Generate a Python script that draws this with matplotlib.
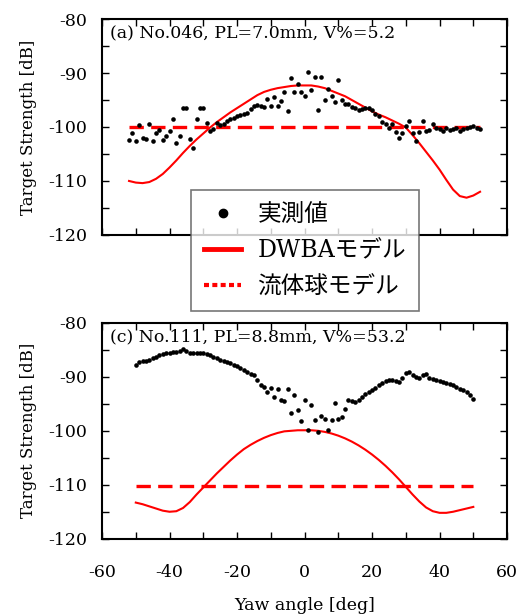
import numpy as np
import matplotlib
matplotlib.use("Agg")
import matplotlib.pyplot as plt
from matplotlib.lines import Line2D
from matplotlib.ticker import MultipleLocator

plt.rcParams['font.family'] = ['DejaVu Serif', 'Noto Sans CJK JP']
plt.rcParams['axes.unicode_minus'] = False

# (a) No.046 measured TS
yaw_a = np.arange(-52, 53)
ts_a = [-102.4, -101.1, -102.6, -99.7, -102.1, -102.2, -99.4, -102.6, -101.1, -100.5,
        -102.4, -101.7, -100.8, -98.6, -102.9, -101.7, -96.5, -96.4, -102.3, -103.9,
        -98.6, -96.4, -96.5, -99.2, -100.8, -100.4, -99.3, -99.7, -99.5, -98.9,
        -98.6, -98.3, -98.0, -97.8, -97.6, -97.4, -96.6, -96.2, -96.0, -96.1,
        -96.3, -94.9, -96.2, -94.5, -96.2, -95.1, -93.5, -97.0, -91.0, -93.5,
        -92.1, -93.5, -94.3, -89.8, -93.2, -90.7, -96.8, -90.7, -95.0, -92.9,
        -94.3, -95.4, -91.3, -95.0, -95.8, -95.8, -96.3, -96.5, -96.9, -96.6,
        -96.4, -96.5, -96.8, -97.5, -98.0, -99.1, -99.5, -100.1, -99.5, -100.9,
        -102.0, -101.2, -99.9, -98.9, -101.1, -102.6, -101.0, -98.9, -100.7, -100.6,
        -99.4, -100.2, -100.3, -100.7, -100.1, -100.5, -100.3, -100.1, -100.7, -100.3,
        -100.1, -100.0, -99.8, -100.2, -100.3]

# (a) DWBA model
ang_a = np.arange(-52, 53, 2)
dwba_a = [-110.0, -110.3, -110.4, -110.2, -109.6, -108.7, -107.5, -106.2, -104.8, -103.5,
          -102.3, -101.2, -100.1, -99.1, -98.2, -97.3, -96.5, -95.7, -94.9, -94.1,
          -93.5, -93.1, -92.8, -92.6, -92.4, -92.3, -92.3, -92.3, -92.5, -92.8,
          -93.3, -93.8, -94.3, -95.0, -95.7, -96.4, -97.1, -97.7, -98.2, -98.8,
          -99.4, -100.1, -101.5, -103.0, -104.6, -106.2, -107.9, -109.8, -111.6, -112.8,
          -113.1, -112.7, -112.0]
sphere_a = -100.0

# (c) No.111 measured TS
yaw_c = np.arange(-50, 51)
ts_c = [-87.8, -87.3, -87.1, -87.0, -86.8, -86.5, -86.3, -86.0, -85.8, -85.6,
        -85.5, -85.4, -85.4, -85.2, -84.9, -85.2, -85.5, -85.5, -85.5, -85.5,
        -85.5, -85.8, -86.0, -86.3, -86.5, -86.8, -87.0, -87.3, -87.5, -87.8,
        -88.0, -88.4, -88.8, -89.1, -89.4, -89.7, -90.6, -91.5, -91.9, -92.8,
        -92.0, -93.7, -92.2, -94.2, -94.4, -92.3, -96.7, -93.4, -96.2, -98.1,
        -94.2, -99.8, -95.2, -98.0, -100.2, -97.3, -97.9, -99.8, -98.0, -94.8,
        -97.9, -97.5, -95.9, -94.3, -94.5, -94.6, -94.2, -93.7, -93.2, -92.8,
        -92.4, -92.0, -91.5, -91.1, -90.8, -90.5, -90.5, -90.7, -90.9, -90.3,
        -89.3, -89.1, -89.6, -90.0, -90.3, -89.6, -89.4, -90.2, -90.4, -90.6,
        -90.8, -91.0, -91.2, -91.4, -91.6, -91.9, -92.2, -92.5, -92.9, -93.4,
        -94.1]

# (c) DWBA model
ang_c = np.arange(-50, 51, 2)
dwba_c = [-113.3, -113.6, -114.0, -114.4, -114.8, -115.0, -114.9, -114.3, -113.2, -111.8,
          -110.5, -109.2, -107.9, -106.7, -105.5, -104.4, -103.4, -102.6, -101.9, -101.3,
          -100.8, -100.4, -100.1, -100.0, -99.9, -99.9, -99.9, -100.0, -100.2, -100.5,
          -100.9, -101.4, -102.0, -102.7, -103.5, -104.4, -105.4, -106.5, -107.7, -109.0,
          -110.4, -111.8, -113.1, -114.2, -114.9, -115.2, -115.2, -115.0, -114.7, -114.4,
          -114.1]
sphere_c = -110.2

titles = ["(a) No.046, PL=7.0mm, V%=5.2", "(c) No.111, PL=8.8mm, V%=53.2"]

fig = plt.figure(figsize=(5.26, 6.15), dpi=100)
ax1 = fig.add_axes([0.194, 0.618, 0.770, 0.351])
ax2 = fig.add_axes([0.194, 0.124, 0.770, 0.351])

panels = [(ax1, yaw_a, ts_a, ang_a, dwba_a, sphere_a, titles[0]),
          (ax2, yaw_c, ts_c, ang_c, dwba_c, sphere_c, titles[1])]

for ax, yaw, ts, ang, dwba, sph, title in panels:
    ax.plot(ang, dwba, color='red', lw=1.5, zorder=2)
    ax.plot([ang[0], ang[-1]], [sph, sph], color='red', lw=2.4,
            dashes=(4.3, 2.2), zorder=2)
    ax.plot(yaw, ts, 'o', color='black', ms=3.3, mec='none', zorder=3)
    ax.set_xlim(-60, 60)
    ax.set_ylim(-120, -80)
    ax.xaxis.set_major_locator(MultipleLocator(20))
    ax.xaxis.set_minor_locator(MultipleLocator(10))
    ax.yaxis.set_major_locator(MultipleLocator(10))
    ax.yaxis.set_minor_locator(MultipleLocator(5))
    ax.tick_params(which='both', direction='in', top=True, right=True,
                   length=5, width=1, labelsize=12.5)
    ax.tick_params(axis='x', pad=18)
    ax.tick_params(axis='y', pad=11)
    for sp in ax.spines.values():
        sp.set_linewidth(1.5)
    ax.set_ylabel("Target Strength [dB]", fontsize=12, labelpad=8)
    ax.text(0.02, 0.935, title, transform=ax.transAxes, fontsize=12.5,
            va='center', ha='left')

ax1.tick_params(axis='x', labelbottom=False)
ax2.set_xlabel("Yaw angle [deg]", fontsize=12.5, labelpad=12)

handles = [Line2D([], [], marker='o', color='black', ls='none', ms=6),
           Line2D([], [], color='red', lw=3.5),
           Line2D([], [], color='red', lw=3, ls=(0, (1.2, 0.8)))]
labels = ["実測値", "DWBAモデル", "流体球モデル"]
leg = fig.legend(handles, labels, loc='center', bbox_to_anchor=(0.58, 0.592),
                 fontsize=17, frameon=True, fancybox=False, edgecolor='#555555',
                 handlelength=1.55, handletextpad=0.7, labelspacing=0.55,
                 borderpad=0.55, borderaxespad=0)
leg.get_frame().set_linewidth(1.2)

fig.savefig("out.png", dpi=100)
